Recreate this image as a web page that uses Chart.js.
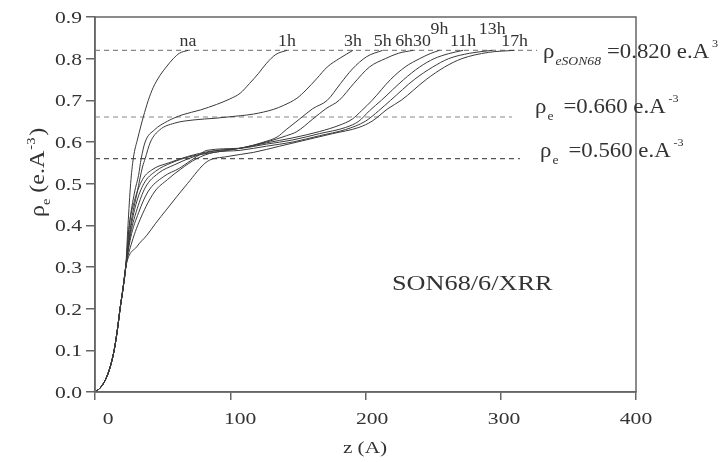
<!DOCTYPE html>
<html>
<head>
<meta charset="utf-8">
<script src="https://cdn.jsdelivr.net/npm/chart.js@4.4.0/dist/chart.umd.min.js"></script>
<style>
  body { margin: 0; background: #fff; }
  #wrap { width: 721px; height: 462px; }
</style>
</head>
<body>
<div id="wrap"><canvas id="canvas"></canvas></div>
<script>
// electron density profiles rho_e(z), one curve per alteration time
var curveNames = ['na', '1h', '3h', '5h', '6h30', '9h', '11h', '13h', '17h'];

// common rise shared by all profiles near the surface
var baseRise = [[-10, 0], [-6, 0.01], [-2, 0.03], [1.5, 0.06], [4.5, 0.1], [7, 0.15], [9, 0.2], [11.3, 0.25], [13.3, 0.3]];

var rhoNa = [[15, 0.4], [17, 0.5], [19, 0.56], [22.5, 0.61], [26.6, 0.66], [30.4, 0.7], [34, 0.73], [39.3, 0.76], [44, 0.78], [49.3, 0.8], [54, 0.813], [60.5, 0.82]];
var rho1h = [[16, 0.4], [20, 0.48], [23, 0.52], [25, 0.56], [28, 0.6], [35, 0.629], [45, 0.65], [56, 0.665], [70, 0.677], [82, 0.69], [92, 0.703], [100, 0.717], [107, 0.74], [114, 0.765], [120, 0.789], [127, 0.81], [135.5, 0.82]];
var rho3h = [[17, 0.4], [22, 0.48], [26, 0.54], [28, 0.56], [32, 0.6], [39, 0.629], [50, 0.645], [65, 0.653], [81, 0.657], [100, 0.663], [110, 0.667], [125, 0.678], [133, 0.688], [143, 0.705], [150, 0.725], [158, 0.752], [166, 0.78], [175, 0.8], [185.5, 0.82]];
var rho5h = [[16, 0.4], [20, 0.46], [26, 0.51], [34, 0.535], [46, 0.55], [60, 0.565], [78, 0.578], [100, 0.585], [118, 0.6], [128, 0.612], [135, 0.63], [145, 0.655], [155, 0.68], [166, 0.7], [176, 0.74], [185, 0.775], [196, 0.805], [208, 0.82]];
var rho6h30 = [[17, 0.39], [21, 0.45], [27, 0.5], [36, 0.53], [48, 0.55], [62, 0.565], [80, 0.575], [100, 0.585], [120, 0.6], [135, 0.615], [143, 0.625], [155, 0.655], [165, 0.68], [175, 0.7], [186, 0.74], [198, 0.78], [210, 0.8], [220, 0.813], [231, 0.82]];
var rho9h = [[17, 0.38], [22, 0.44], [28, 0.49], [38, 0.525], [50, 0.545], [65, 0.565], [80, 0.578], [100, 0.585], [120, 0.598], [140, 0.61], [160, 0.625], [175, 0.64], [185, 0.655], [192, 0.675], [200, 0.7], [214, 0.75], [225, 0.78], [236, 0.8], [244, 0.812], [251, 0.82]];
var rho11h = [[17, 0.37], [23, 0.43], [30, 0.48], [42, 0.517], [54, 0.537], [67, 0.565], [75, 0.58], [100, 0.585], [120, 0.595], [140, 0.605], [160, 0.62], [180, 0.635], [190, 0.65], [198, 0.675], [207, 0.7], [224, 0.75], [236, 0.78], [247, 0.8], [258, 0.812], [269, 0.82]];
var rho13h = [[18, 0.36], [25, 0.42], [35, 0.48], [45, 0.51], [55, 0.535], [67, 0.56], [80, 0.575], [100, 0.58], [120, 0.59], [140, 0.6], [160, 0.615], [180, 0.63], [195, 0.65], [205, 0.675], [214, 0.7], [232, 0.75], [246, 0.78], [258, 0.8], [274, 0.813], [291, 0.82]];
var rho17h = [[22, 0.35], [29, 0.375], [36, 0.405], [44, 0.437], [60, 0.5], [75, 0.553], [90, 0.565], [110, 0.575], [130, 0.59], [150, 0.605], [170, 0.62], [190, 0.635], [200, 0.65], [212, 0.68], [222, 0.7], [241, 0.75], [255, 0.78], [268, 0.8], [288, 0.815], [308, 0.82]];

var curves = [rhoNa, rho1h, rho3h, rho5h, rho6h30, rho9h, rho11h, rho13h, rho17h];

// reference densities (dashed lines) and where each dash line stops
var refLevels = [0.82, 0.66, 0.56];
var refEnds = [325, 306, 312];
var refSubs = ['eSON68', 'e', 'e'];
var refSups = ['3', '-3', '-3'];

var xTicks = [0, 100, 200, 300, 400];
var yTicks = [0, 0.1, 0.2, 0.3, 0.4, 0.5, 0.6, 0.7, 0.8, 0.9];

var SERIF = '"Liberation Serif", "DejaVu Serif", serif';

function txt(ctx, s, x, y, size, o) {
  o = o || {};
  var sx = o.sx || 1;
  ctx.save();
  ctx.font = (o.italic ? 'italic ' : '') + size + 'px ' + SERIF;
  ctx.translate(x, y);
  ctx.scale(sx, 1);
  ctx.textAlign = o.align || 'left';
  ctx.textBaseline = 'alphabetic';
  ctx.fillStyle = o.color || '#333';
  ctx.fillText(s, 0, 0);
  var w = ctx.measureText(s).width * sx;
  ctx.restore();
  return w;
}

var datasets = [];
for (var i = 0; i < curves.length; i++) {
  datasets.push({
    label: curveNames[i],
    data: baseRise.concat(curves[i]).map(function(p) { return {x: p[0], y: p[1]}; }),
    borderColor: '#3a3a3a',
    borderWidth: 1,
    pointRadius: 0,
    cubicInterpolationMode: 'monotone',
    fill: false
  });
}
for (var j = 0; j < refLevels.length; j++) {
  datasets.push({
    label: 'ref' + j,
    data: [{x: -10, y: refLevels[j]}, {x: refEnds[j], y: refLevels[j]}],
    borderColor: j == 2 ? '#555' : '#888',
    borderWidth: 1.2,
    borderDash: [5, 4],
    pointRadius: 0,
    fill: false
  });
}

var textPlugin = {
  id: 'texts',
  afterDraw: function(chart) {
    var ctx = chart.ctx;
    var xs = chart.scales.x, ys = chart.scales.y;
    var a = chart.chartArea;

    // box frame
    ctx.save();
    ctx.strokeStyle = '#666';
    ctx.lineWidth = 1.5;
    ctx.strokeRect(a.left, a.top, a.right - a.left, a.bottom - a.top);
    ctx.restore();

    // tick labels
    yTicks.forEach(function(v) {
      txt(ctx, v.toFixed(1), 82, ys.getPixelForValue(v) + 6, 17, {align: 'right', sx: 1.27});
    });
    xTicks.forEach(function(v) {
      txt(ctx, String(v), xs.getPixelForValue(v), 424, 17, {align: 'center', sx: 1.27});
    });

    // axis titles
    txt(ctx, 'z (A)', 365, 453, 17, {align: 'center', sx: 1.25});
    ctx.save();
    ctx.translate(44, 217);
    ctx.rotate(-Math.PI / 2);
    var p = 0;
    p += txt(ctx, 'ρ', p, 0, 20, {sx: 1.2});
    p += txt(ctx, 'e', p, 6, 12, {sx: 1.2});
    p += txt(ctx, ' (e.A', p, 0, 20, {sx: 1.2});
    p += txt(ctx, '-3', p + 1, -9, 12, {sx: 1.2});
    txt(ctx, ')', p + 3, 0, 20, {sx: 1.2});
    ctx.restore();

    // curve names at the top of each profile
    curves.forEach(function(c, k) {
      var last = c[c.length - 1];
      var raised = curveNames[k] == '9h' || curveNames[k] == '13h';
      txt(ctx, curveNames[k], xs.getPixelForValue(last[0]), raised ? 34 : 46, 17, {align: 'center', sx: 1.05});
    });

    txt(ctx, 'SON68/6/XRR', 392, 290, 21, {sx: 1.25});

    // reference density labels
    var rowX = [543, 535, 540];
    var rowY = [58, 113, 157];
    refLevels.forEach(function(lv, k) {
      var x = rowX[k], y = rowY[k];
      x += txt(ctx, 'ρ', x, y, 20, {sx: 1.14});
      x += txt(ctx, refSubs[k], x + 1, y + 7, 12, {sx: 1.14, italic: k == 0});
      x += k == 0 ? 7 : 11;
      x += txt(ctx, '=' + lv.toFixed(3) + ' e.A', x, y, 20, {sx: 1.14});
      txt(ctx, refSups[k], x + 3, y - 11, 11, {sx: 1.1});
    });
  }
};

var ctx = document.getElementById('canvas').getContext('2d');
var chart = new Chart(ctx, {
  type: 'line',
  data: {datasets: datasets},
  options: {
    responsive: true,
    maintainAspectRatio: false,
    animation: false,
    layout: {padding: {left: 0, right: 85, top: 17, bottom: 0}},
    plugins: {legend: {display: false}, tooltip: {enabled: false}},
    scales: {
      x: {
        type: 'linear', min: -10, max: 400,
        ticks: {stepSize: 100, display: false, includeBounds: false},
        grid: {drawOnChartArea: false, drawTicks: true, tickLength: 8, color: '#666', lineWidth: 1.5},
        border: {display: true, color: '#666', width: 1.5},
        afterFit: function(s) { s.height = 70; }
      },
      y: {
        type: 'linear', min: 0, max: 0.9,
        ticks: {stepSize: 0.1, display: false, includeBounds: false},
        grid: {drawOnChartArea: false, drawTicks: true, tickLength: 9, color: '#666', lineWidth: 1.5},
        border: {display: true, color: '#666', width: 1.5},
        afterFit: function(s) { s.width = 95; }
      }
    }
  },
  plugins: [textPlugin]
});
</script>
</body>
</html>
